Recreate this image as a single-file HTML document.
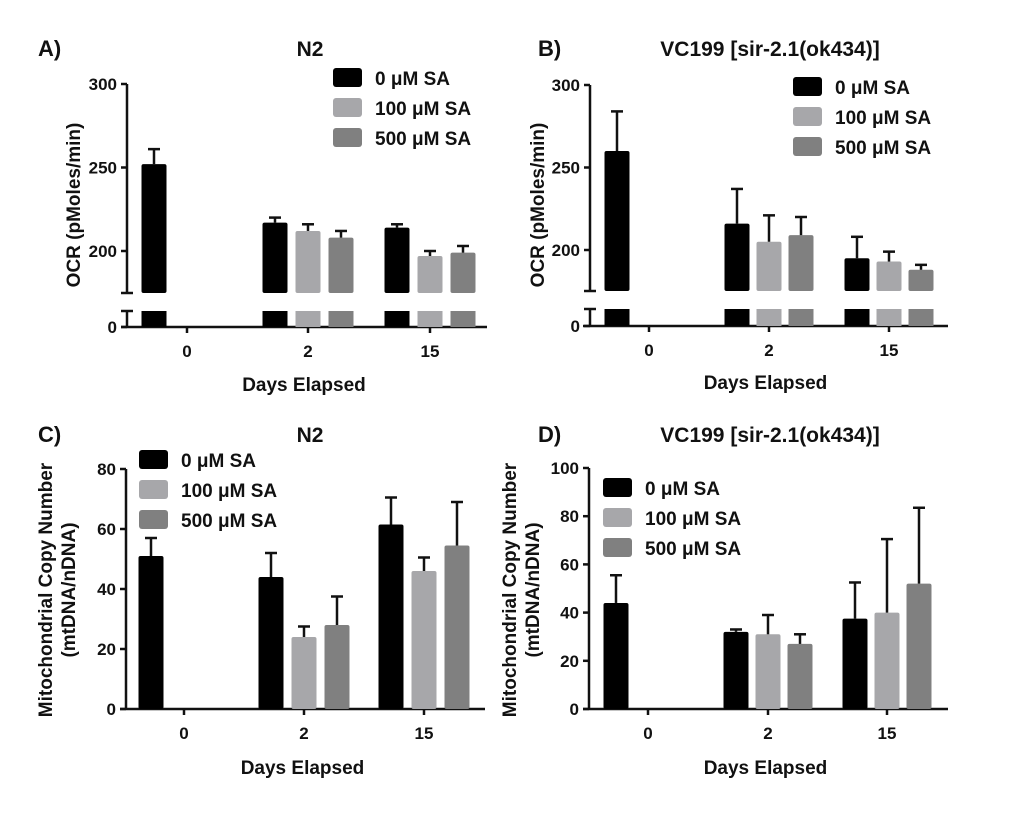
<!DOCTYPE html>
<html><head><meta charset="utf-8"><style>
body{margin:0;background:#fff}
svg text{font-family:"Liberation Sans",Arial,sans-serif;font-weight:bold;fill:#111}
</style></head><body>
<svg id="s" width="1020" height="812" viewBox="0 0 1020 812"></svg>
<script>
const groups=["0","2","15"];
const series=["0 μM SA","100 μM SA","500 μM SA"];
const colors=["#000000","#a7a7aa","#808080"];
const aMean=[[252],[217,212,208],[214,197,199]];
const aErr=[[261],[220,216,212],[216,200,203]];
const bMean=[[260],[216,205,209],[195,193,188]];
const bErr=[[284],[237,221,220],[208,199,191]];
const cMean=[[51],[44,24,28],[61.5,46,54.5]];
const cErr=[[57],[52,27.5,37.5],[70.5,50.5,69]];
const dMean=[[44],[32,31,27],[37.5,40,52]];
const dErr=[[55.5],[33,39,31],[52.5,70.5,83.5]];
const ocrTicks=[200,250,300];
const cTicks=[0,20,40,60,80];
const dTicks=[0,20,40,60,80,100];
const NS="http://www.w3.org/2000/svg";
const svg=document.getElementById('s');
function mk(t,a,p){const e=document.createElementNS(NS,t);for(const k in a)e.setAttribute(k,a[k]);(p||svg).appendChild(e);return e;}
function txt(x,y,s,size,anchor,p){const e=mk('text',{x:x,y:y,'font-size':size,'text-anchor':anchor||'middle'},p);e.textContent=s;return e;}
function panel(cfg){
  const g=mk('g',{});
  
  
  const y=cfg.y, ax=cfg.ax, x0=cfg.x0, x1=cfg.x1, zeroY=cfg.zeroY;
  if(cfg.broken){
    mk('line',{x1:ax,y1:y(cfg.max),x2:ax,y2:cfg.breakY,stroke:'#111','stroke-width':2.5},g);
    mk('line',{x1:ax-6,y1:cfg.breakY,x2:ax+6,y2:cfg.breakY,stroke:'#111','stroke-width':2.5},g);
    mk('line',{x1:ax,y1:cfg.lowTop,x2:ax,y2:zeroY,stroke:'#111','stroke-width':2.5},g);
    mk('line',{x1:ax-6,y1:cfg.lowTop,x2:ax+6,y2:cfg.lowTop,stroke:'#111','stroke-width':2.5},g);
    mk('line',{x1:ax-6,y1:zeroY,x2:ax,y2:zeroY,stroke:'#111','stroke-width':2.5},g);
    txt(ax-10,zeroY+6,"0",17,'end',g);
  } else {
    mk('line',{x1:ax,y1:y(cfg.max),x2:ax,y2:zeroY,stroke:'#111','stroke-width':2.5},g);
  }
  mk('line',{x1:x0,y1:zeroY,x2:x1,y2:zeroY,stroke:'#111','stroke-width':2.5},g);
  cfg.ticks.forEach(t=>{
    const yy=y(t);
    mk('line',{x1:ax-6,y1:yy,x2:ax,y2:yy,stroke:'#111','stroke-width':2.5},g);
    const tl=txt(ax-10,yy+6,String(t),17,'end',g);
    
    
  });
  groups.forEach((gl,i)=>{
    const cx=cfg.centers[i];
    mk('line',{x1:cx,y1:zeroY,x2:cx,y2:zeroY+6,stroke:'#111','stroke-width':2.5},g);
    const tl=txt(cx,zeroY+30,gl,17,'middle',g);
    
    
    const m=cfg.mean[i], e=cfg.err[i];
    m.forEach((v,j)=>{
      const bx=cx+(j-1)*cfg.sp - cfg.bw/2;
      const top=y(v);
      const bot=cfg.broken?cfg.breakY:zeroY;
      const r=mk('rect',{x:bx,y:top,width:cfg.bw,height:Math.max(0,bot-top),fill:colors[j],rx:2},g);
      
      
      if(cfg.broken){mk('rect',{x:bx,y:cfg.lowTop,width:cfg.bw,height:zeroY-cfg.lowTop,fill:colors[j]},g);}
      const ex=bx+cfg.bw/2, ey=y(e[j]);
      mk('line',{x1:ex,y1:top,x2:ex,y2:ey,stroke:'#111','stroke-width':2.5},g);
      mk('line',{x1:ex-6,y1:ey,x2:ex+6,y2:ey,stroke:'#111','stroke-width':2.5},g);
    });
  });
  series.forEach((s,j)=>{
    const ly=cfg.leg[1]+j*30;
    const r=mk('rect',{x:cfg.leg[0],y:ly-10,width:29,height:19,fill:colors[j],rx:3},g);
    
    
    const t=txt(cfg.leg[0]+42,ly+7,s,19,'start',g);
    
    
  });
  const xt=txt((x0+x1)/2,cfg.xTitleY,"Days Elapsed",19,'middle',g);
  
  
}
function ocrScale(y300,y200){return v=>y200-(v-200)*(y200-y300)/100;}
panel({name:'panel-a',broken:true,y:ocrScale(84,251),max:300,ax:127,x0:121,x1:487,zeroY:327,breakY:293,lowTop:311,ticks:ocrTicks,centers:[187,308,430],sp:33,bw:25,mean:aMean,err:aErr,leg:[333,78],xTitleY:391});
panel({name:'panel-b',broken:true,y:ocrScale(85,250),max:300,ax:590,x0:583,x1:948,zeroY:326,breakY:291,lowTop:309,ticks:ocrTicks,centers:[649,769,889],sp:32,bw:25,mean:bMean,err:bErr,leg:[793,87],xTitleY:389});
panel({name:'panel-c',broken:false,y:v=>709-v*(709-469)/80,max:80,ax:126,x0:120,x1:485,zeroY:709,ticks:cTicks,centers:[184,304,424],sp:33,bw:25,mean:cMean,err:cErr,leg:[139,460],xTitleY:774});
panel({name:'panel-d',broken:false,y:v=>709-v*(709-468)/100,max:100,ax:589,x0:583,x1:948,zeroY:709,ticks:dTicks,centers:[648,768,887],sp:32,bw:25,mean:dMean,err:dErr,leg:[603,488],xTitleY:774});
[["A)",38,56],["B)",538,56],["C)",38,442],["D)",538,442]].forEach(a=>{const t=txt(a[1],a[2],a[0],22,'start');});
[["N2",310,56],["VC199 [sir-2.1(ok434)]",770,56],["N2",310,442],["VC199 [sir-2.1(ok434)]",770,442]].forEach(a=>{const t=txt(a[1],a[2],a[0],21,'middle');});
function ytitle(x,y,s){const t=txt(0,0,s,19,'middle');t.setAttribute('transform','translate('+x+','+y+') rotate(-90)');}
ytitle(80,205,"OCR (pMoles/min)");
ytitle(544,205,"OCR (pMoles/min)");
ytitle(52,590,"Mitochondrial Copy Number");
ytitle(75,590,"(mtDNA/nDNA)");
ytitle(516,590,"Mitochondrial Copy Number");
ytitle(539,590,"(mtDNA/nDNA)");
</script>
</body></html>
